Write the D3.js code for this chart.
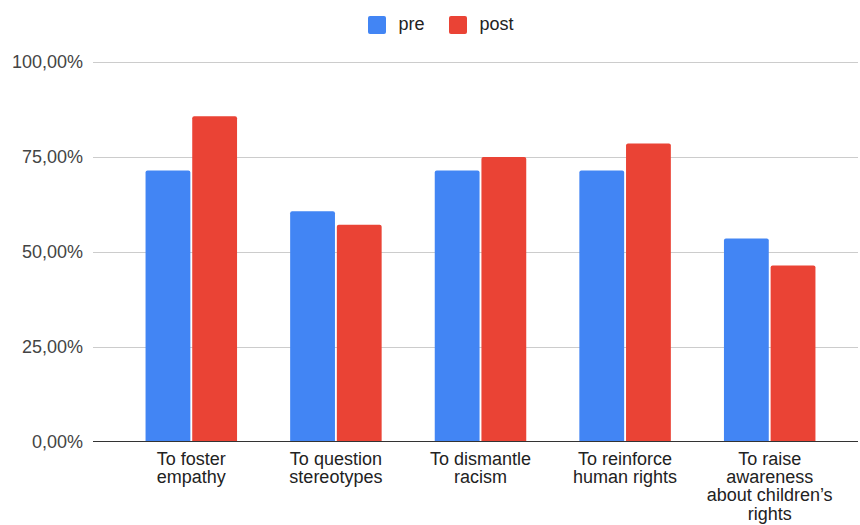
<!DOCTYPE html>
<html>
<head>
<meta charset="utf-8">
<script src="https://cdn.jsdelivr.net/npm/d3@7"></script>
<style>
  body { margin: 0; background: #fff; }
  svg { display: block; font-family: Arial, "Liberation Sans", sans-serif; }
</style>
</head>
<body>
<svg id="chart" width="860" height="525"></svg>
<script>
// Survey goals, share of respondents before and after
const categories = [
  ["To foster", "empathy"],
  ["To question", "stereotypes"],
  ["To dismantle", "racism"],
  ["To reinforce", "human rights"],
  ["To raise", "awareness", "about children\u2019s", "rights"]
];
const seriesNames = ["pre", "post"];
const preValues = [0.7143, 0.6071, 0.7143, 0.7143, 0.5357];
const postValues = [0.8571, 0.5714, 0.75, 0.7857, 0.4643];
const yTicks = [0, 0.25, 0.5, 0.75, 1];
const colors = ["#4285F4", "#EA4335"];

const svg = d3.select("#chart");
const plotLeft = 93, plotRight = 858, plotTop = 62, plotBottom = 442;

const x0 = d3.scaleBand()
  .domain(d3.range(categories.length))
  .range([119, 842])
  .padding(0);
const x1 = d3.scaleBand()
  .domain(seriesNames)
  .range([x0.bandwidth() / 2 - 45.75, x0.bandwidth() / 2 + 45.75])
  .paddingInner(0.04);
const y = d3.scaleLinear().domain([0, 1]).range([plotBottom, plotTop]);

const fmt = v => d3.format(".2f")(v * 100).replace(".", ",") + "%";

// gridlines
svg.append("g").selectAll("line")
  .data(yTicks.filter(t => t > 0))
  .join("line")
  .attr("x1", plotLeft).attr("x2", plotRight)
  .attr("y1", d => y(d) + 0.5).attr("y2", d => y(d) + 0.5)
  .attr("stroke", "#cccccc").attr("stroke-width", 1);

// y axis labels
svg.append("g").selectAll("text")
  .data(yTicks)
  .join("text")
  .attr("x", 83).attr("y", d => y(d))
  .attr("dy", "0.35em")
  .attr("text-anchor", "end")
  .attr("font-size", 18)
  .attr("fill", "#444")
  .text(fmt);

// bars with slightly rounded tops
const rows = categories.map((c, i) => ({ i, vals: [preValues[i], postValues[i]] }));
const r = 2;
function barPath(xp, w, top, bottom) {
  return `M${xp},${bottom}V${top + r}Q${xp},${top} ${xp + r},${top}H${xp + w - r}Q${xp + w},${top} ${xp + w},${top + r}V${bottom}Z`;
}
const groups = svg.append("g").selectAll("g")
  .data(rows)
  .join("g")
  .attr("transform", d => `translate(${x0(d.i)},0)`);
groups.selectAll("path")
  .data(d => d.vals.map((v, k) => ({ v, k })))
  .join("path")
  .attr("d", d => barPath(x1(seriesNames[d.k]), x1.bandwidth(), y(d.v), y(0)))
  .attr("fill", d => colors[d.k]);

// baseline
svg.append("line")
  .attr("x1", plotLeft).attr("x2", plotRight)
  .attr("y1", y(0) - 0.5).attr("y2", y(0) - 0.5)
  .attr("stroke", "#333").attr("stroke-width", 1.2);

// category labels
const lab = svg.append("g").selectAll("text")
  .data(categories)
  .join("text")
  .attr("text-anchor", "middle")
  .attr("font-size", 18)
  .attr("fill", "#222")
  .attr("transform", (d, i) => `translate(${x0(i) + x0.bandwidth() / 2},465)`);
lab.selectAll("tspan")
  .data(d => d)
  .join("tspan")
  .attr("x", 0)
  .attr("y", (d, k) => k * 18.2)
  .text(d => d);

// legend
const legend = svg.append("g");
const legendX = [368, 449];
seriesNames.forEach((name, k) => {
  legend.append("rect")
    .attr("x", legendX[k]).attr("y", 16)
    .attr("width", 18).attr("height", 18).attr("rx", 2)
    .attr("fill", colors[k]);
  legend.append("text")
    .attr("x", legendX[k] + 30.5).attr("y", 30)
    .attr("font-size", 18)
    .attr("fill", "#222")
    .text(name);
});
</script>
</body>
</html>
